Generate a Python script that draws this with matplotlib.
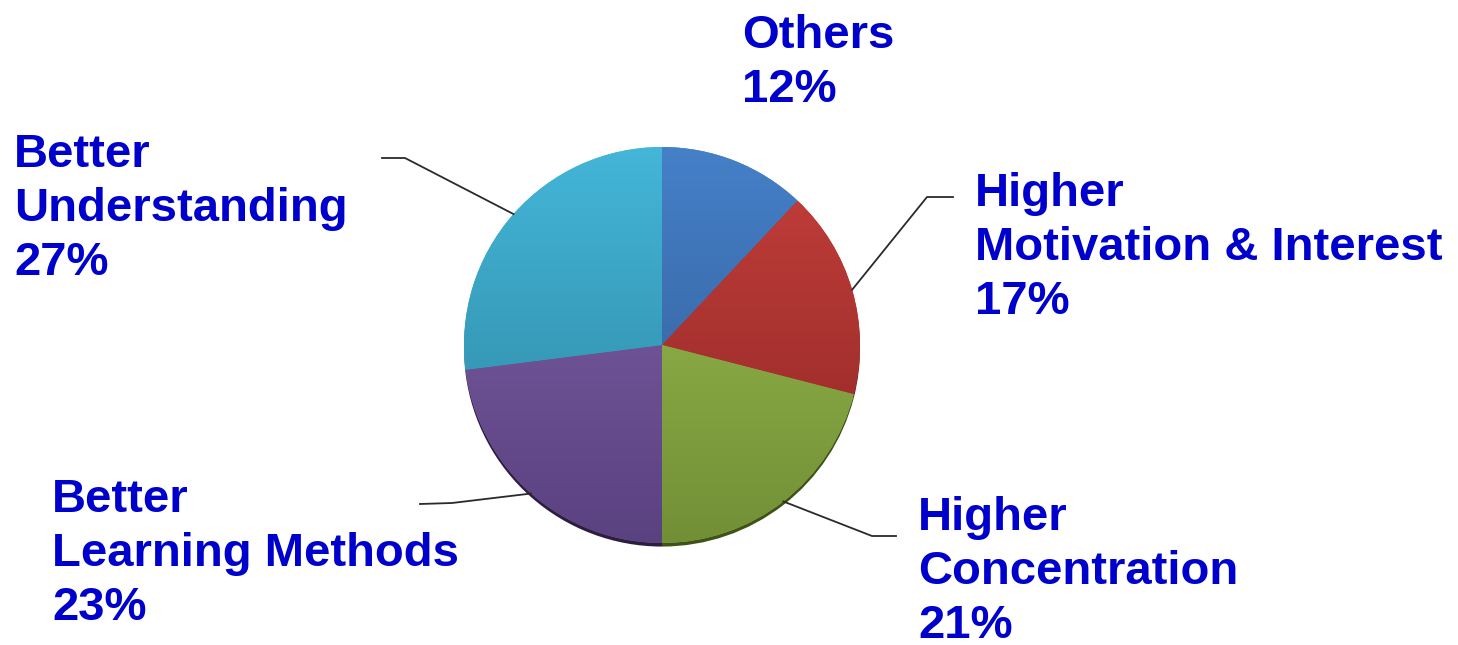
import numpy as np
import matplotlib.pyplot as plt
from matplotlib.colors import LinearSegmentedColormap
from matplotlib.lines import Line2D

# Survey shares, clockwise from 12 o'clock
categories = ['Others', 'Higher\nMotivation & Interest', 'Higher\nConcentration',
              'Better\nLearning Methods', 'Better\nUnderstanding']
shares = [12, 17, 21, 23, 27]

# light (top) and dark (bottom) shade of each slice
top_colors = ['#4580C8', '#C43F3A', '#9CC152', '#8163AA', '#44B6D8']
bottom_colors = ['#2F5A92', '#8E2626', '#728F36', '#5A4180', '#2C829E']
rim_colors = ['#1E3B60', '#5A1414', '#3F5218', '#2C1E40', '#1A5366']

# label anchors (left, top of text) and leader elbows, in image pixels
label_pos = [(742, 14), (975, 172), (918, 496), (52, 478), (14, 133)]
leaders = [None, [(927, 197), (953, 197)], [(872, 536), (896, 536)],
           [(452, 503), (420, 504)], [(405, 158), (382, 158)]]

W, H = 1458, 645
fig = plt.figure(figsize=(W / 100, H / 100), dpi=100)

cx, cy, r = 662, 345, 198
ax = fig.add_axes([(cx - r) / W, (H - cy - r) / H, 2 * r / W, 2 * r / H])

# darker copy slightly lower gives the thin 3d rim
ax.pie(shares, startangle=90, counterclock=False, center=(0, -0.018),
       colors=rim_colors, wedgeprops=dict(linewidth=0))
wedges, _ = ax.pie(shares, startangle=90, counterclock=False,
                   colors=top_colors, wedgeprops=dict(linewidth=0))

grad = np.linspace(0, 1, 256).reshape(-1, 1)
for w, c0, c1 in zip(wedges, top_colors, bottom_colors):
    cmap = LinearSegmentedColormap.from_list('shade', [c1, c0])
    im = ax.imshow(grad, cmap=cmap, extent=(-1, 1, -1, 1), origin='lower',
                   aspect='auto', zorder=w.get_zorder() + 0.1)
    im.set_clip_path(w)

ax.set_xlim(-1, 1)
ax.set_ylim(-1, 1)
ax.set_aspect('auto')
ax.axis('off')
fig.canvas.draw()

# leader lines: from slice edge to elbow, then a short horizontal tail
for w, pts in zip(wedges, leaders):
    if pts is None:
        continue
    theta = np.deg2rad((w.theta1 + w.theta2) / 2)
    sx, sy = ax.transData.transform((np.cos(theta), np.sin(theta)))
    xs = [sx] + [p[0] for p in pts]
    ys = [sy] + [H - p[1] for p in pts]
    fig.add_artist(Line2D(xs, ys, transform=None, color='#2a2a2a', lw=1.3))

for name, val, (lx, ly) in zip(categories, shares, label_pos):
    fig.text(lx / W, 1 - ly / H, f'{name}\n{val}%', ha='left', va='top',
             fontsize=34, fontweight='bold', family='Liberation Sans',
             color='#0000CC', linespacing=1.29)

fig.savefig('out.png', dpi=100)
